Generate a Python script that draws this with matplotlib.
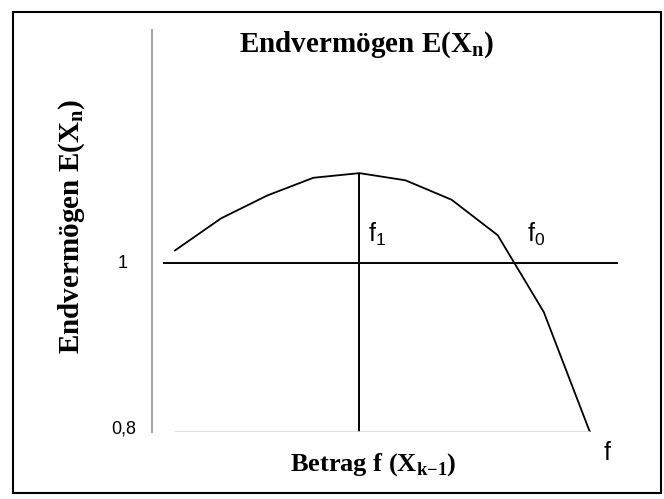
import matplotlib
matplotlib.use("Agg")
import matplotlib.pyplot as plt
from matplotlib.patches import Rectangle

# values
betrag = [1, 2, 3, 4, 5, 6, 7, 8, 9, 10]
endvermoegen = [1.015, 1.053, 1.080, 1.101, 1.1065, 1.098, 1.075, 1.033, 0.942, 0.800]
y_ticks = [0.8, 1.0]
y_tick_labels = ["0,8", "1"]
f1_pos = 5

plt.rcParams['mathtext.fontset'] = 'custom'
plt.rcParams['mathtext.bf'] = 'Liberation Serif:bold'
plt.rcParams['mathtext.sf'] = 'Liberation Sans'
plt.rcParams['mathtext.rm'] = 'Liberation Sans'

serif = dict(family='Liberation Serif', weight='bold')
sans = dict(family='Liberation Sans')

fig = plt.figure(figsize=(6.64, 4.99), dpi=100)
ax = fig.add_axes([0.2289, 0.1343, 0.7289, 0.8056])

ax.plot(betrag, endvermoegen, color='black', lw=1.3)
ax.hlines(1.0, 0.74, 10.61, color='black', lw=1.4)
ax.vlines(f1_pos, 0.8, max(endvermoegen), color='black', lw=1.4)
ax.hlines(0.8, 1.0, 10.0, color='#d8d8d8', lw=1.2)

ax.set_xlim(0.5, 11)
ax.set_ylim(0.8, 1.276)
for s in ['top', 'right', 'bottom']:
    ax.spines[s].set_visible(False)
ax.spines['left'].set_color('#a8a8a8')
ax.spines['left'].set_linewidth(1.5)
ax.set_xticks([])
ax.set_yticks([])

# tick labels
trans = ax.get_yaxis_transform()
ax.text(-0.05, y_ticks[1], y_tick_labels[1], transform=trans, ha='right', va='center',
        fontsize=13, **sans)
ax.text(-0.032, y_ticks[0] + 0.003, y_tick_labels[0], transform=trans, ha='right', va='center',
        fontsize=13, **sans, clip_on=False)

# f labels
ax.text(5.18, 1.025, r"$\mathsf{f}_{\mathsf{1}}$", fontsize=18, ha='left', va='baseline')
ax.text(8.63, 1.025, r"$\mathsf{f}_{\mathsf{0}}$", fontsize=18, ha='left', va='baseline')
ax.text(10.28, 0.767, r"$\mathsf{f}$", fontsize=18, ha='left', va='baseline', clip_on=False)

fig.text(367 / 664, 1 - 45 / 499, r"Endvermögen E($\mathbf{X}_{\mathbf{n}}$)",
         ha='center', va='center', size=21, **serif)
fig.text(373 / 664, 1 - 465 / 499, r"Betrag f ($\mathbf{X}_{\mathbf{k{-}1}}$)",
         ha='center', va='center', size=19, **serif)
fig.text(72 / 664, 1 - 226 / 499, r"Endvermögen E($\mathbf{X}_{\mathbf{n}}$)",
         ha='center', va='center', rotation=90, size=21, **serif)

fig.patches.append(Rectangle((13 / 664, 1 - 493 / 499), 648 / 664, 481 / 499,
                             transform=fig.transFigure, fill=False,
                             edgecolor='black', lw=1.5))

plt.savefig("out.png", dpi=100)
